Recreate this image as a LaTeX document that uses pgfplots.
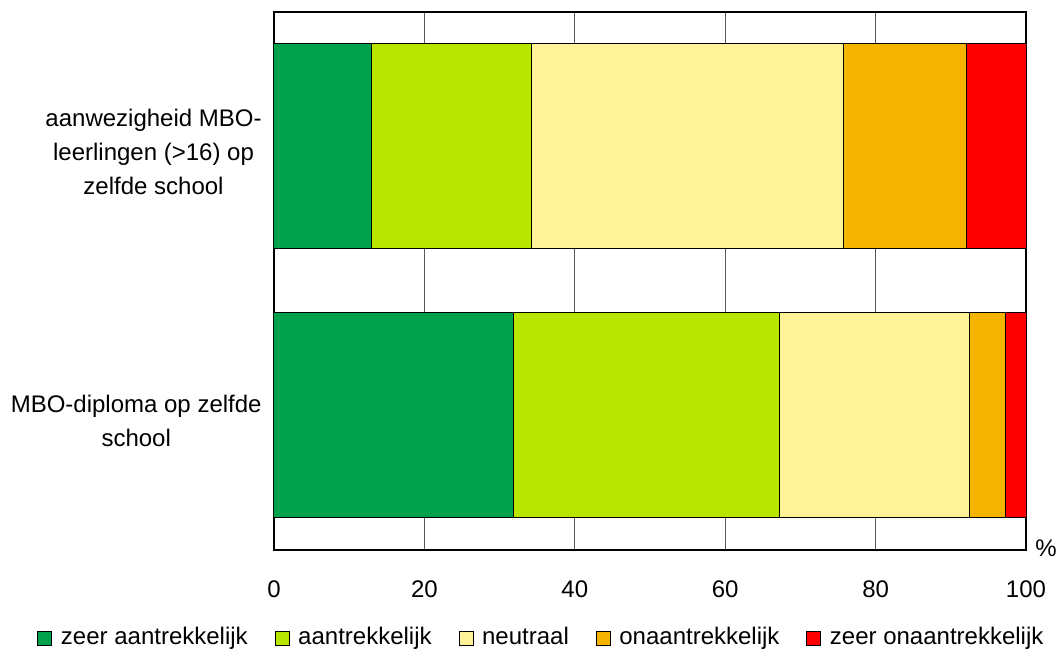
\documentclass[border=0pt]{standalone}
\usepackage{fontspec}
\setmainfont{Liberation Sans}
\usepackage{pgfplots}
\pgfplotsset{compat=1.18}
\definecolor{c1}{RGB}{0,161,75}
\definecolor{c2}{RGB}{184,230,0}
\definecolor{c3}{RGB}{255,242,153}
\definecolor{c4}{RGB}{245,180,0}
\definecolor{c5}{RGB}{255,0,0}
\begin{document}
\fontsize{12}{17}\selectfont
\begin{tikzpicture}
\begin{axis}[
  at={(0pt,0pt)}, anchor=south west,
  scale only axis, width=376pt, height=269pt,
  xbar stacked, bar width=102.5pt,
  xmin=0, xmax=100, ymin=-0.5, ymax=1.5,
  ytick={0,1},
  yticklabels={{MBO-diploma op zelfde\\school},{aanwezigheid MBO-\\leerlingen (>16) op\\zelfde school}},
  yticklabel style={align=center, inner sep=0pt, xshift=-6pt, yshift=-2.5pt, font=\fontsize{12}{17}\selectfont},
  xtick={0,20,40,60,80,100},
  xticklabel style={font=\fontsize{12}{14}\selectfont, yshift=-11pt},
  /pgf/number format/assume math mode=true,
  tick style={draw=none},
  xmajorgrids, grid style={draw=black!65, line width=0.5pt},
  axis line style={line width=0.6pt},
  xlabel={\%},
  xlabel style={at={(rel axis cs:1,0)}, anchor=west, inner sep=0pt, xshift=4.5pt, yshift=0.75pt, font=\fontsize{12}{14}\selectfont},
  legend columns=5,
  legend style={at={(axis description cs:0.357,-0.1636)}, anchor=center, draw=none, fill=none,
    font=\fontsize{12}{14}\selectfont,
    /tikz/every even column/.append style={column sep=11.5pt}},
  legend image code/.code={\draw[#1,draw=black,line width=0.5pt] (0pt,-3.5pt) rectangle (7pt,3.5pt); \path[draw=none,fill=none] (7pt,0pt) -- (9.5pt,0pt);},
]
\addplot[fill=c1, draw=black, line width=0.5pt] coordinates {(31.8,0) (13.0,1)};
\addplot[fill=c2, draw=black, line width=0.5pt] coordinates {(35.4,0) (21.3,1)};
\addplot[fill=c3, draw=black, line width=0.5pt] coordinates {(25.3,0) (41.4,1)};
\addplot[fill=c4, draw=black, line width=0.5pt] coordinates {(4.8,0) (16.4,1)};
\addplot[fill=c5, draw=black, line width=0.5pt] coordinates {(2.7,0) (7.9,1)};
\legend{zeer aantrekkelijk, aantrekkelijk, neutraal, onaantrekkelijk, zeer onaantrekkelijk}
\end{axis}
\path (-137pt,-53.5pt) rectangle (392.5pt,275pt);
\end{tikzpicture}
\end{document}
